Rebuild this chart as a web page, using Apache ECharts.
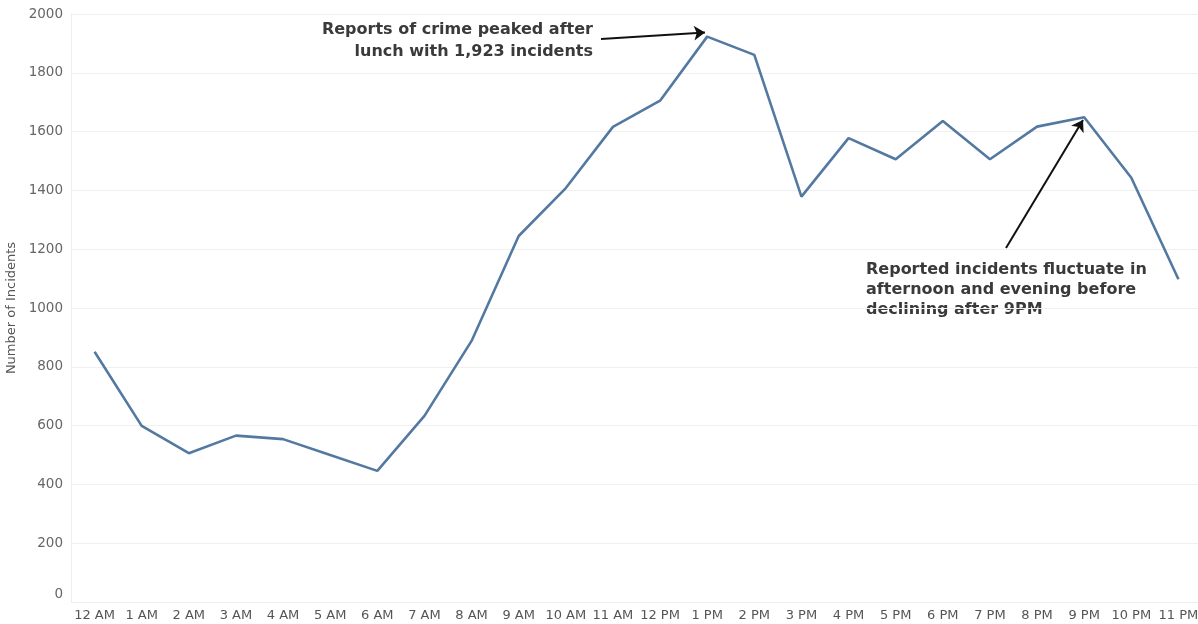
<!DOCTYPE html>
<html>
<head>
<meta charset="utf-8">
<script src="https://cdn.jsdelivr.net/npm/echarts@6/dist/echarts.min.js"></script>
<style>html,body{margin:0;padding:0;background:#fff}#c{width:1198px;height:624px}</style>
</head>
<body>
<div id="c"></div>
<script>
const hours = ['12 AM','1 AM','2 AM','3 AM','4 AM','5 AM','6 AM','7 AM','8 AM','9 AM','10 AM','11 AM',
  '12 PM','1 PM','2 PM','3 PM','4 PM','5 PM','6 PM','7 PM','8 PM','9 PM','10 PM','11 PM'];
const incidents = [851, 599, 506, 566, 554, 500, 446, 633, 888, 1245, 1408, 1616,
  1705, 1923, 1861, 1379, 1578, 1506, 1636, 1506, 1617, 1649, 1443, 1098];
const yAxisTitle = 'Number of Incidents';
const note1 = ['Reports of crime peaked after', 'lunch with 1,923 incidents'];
const note2 = ['Reported incidents fluctuate in', 'afternoon and evening before', 'declining after 9PM'];

const chart = echarts.init(document.getElementById('c'), null, {renderer: 'canvas'});
const labelFont = '"DejaVu Sans", Verdana, sans-serif';
const noteFont = '"DejaVu Sans", Verdana, sans-serif';
chart.setOption({
  animation: false,
  backgroundColor: '#fff',
  grid: {left: 71, top: 14, width: 1131, height: 588, containLabel: false, outerBoundsMode: 'none'},
  xAxis: {
    type: 'category', data: hours, boundaryGap: true,
    axisLine: {show: true, lineStyle: {color: '#eeeeee'}},
    axisTick: {show: false},
    axisLabel: {interval: 0, color: '#555', fontSize: 13, fontFamily: labelFont, margin: 7}
  },
  yAxis: {
    type: 'value', min: 0, max: 2000, interval: 200,
    name: yAxisTitle, nameLocation: 'middle', nameGap: 46, nameRotate: 90,
    nameTextStyle: {color: '#555', fontSize: 13, fontFamily: labelFont},
    axisLine: {show: true, lineStyle: {color: '#eeeeee'}},
    axisTick: {show: false},
    axisLabel: {color: '#666', fontSize: 13.5, fontFamily: labelFont, margin: 8,
      formatter: v => v === 0 ? '{z|0}' : String(v),
      rich: {z: {color: '#666', fontSize: 13.5, fontFamily: labelFont, padding: [0, 0, 16, 0]}}},
    splitLine: {lineStyle: {color: '#f0f0f0'}}
  },
  series: [{
    type: 'line', data: incidents, symbol: 'none',
    lineStyle: {color: '#5479a1', width: 2.6},
    itemStyle: {color: '#5479a1'},
    markLine: {
      silent: true, symbol: ['none', 'arrow'], symbolSize: 11,
      label: {show: false},
      lineStyle: {color: '#111', width: 2, type: 'solid'},
      data: [
        [{x: 601, y: 39}, {x: 705, y: 32.5}],
        [{x: 1006, y: 248}, {x: 1083, y: 120}]
      ]
    }
  }],
  graphic: [
    {type: 'text', x: 593, y: 19,
     style: {text: note1.join('\n'), font: 'bold 16px ' + noteFont, fill: '#3a3a3a', align: 'right', verticalAlign: 'top', lineHeight: 22}},
    {type: 'text', x: 866, y: 260,
     style: {text: note2.join('\n'), font: 'bold 16px ' + noteFont, fill: '#3a3a3a', align: 'left', verticalAlign: 'top', lineHeight: 20}}
  ]
});
</script>
</body>
</html>
